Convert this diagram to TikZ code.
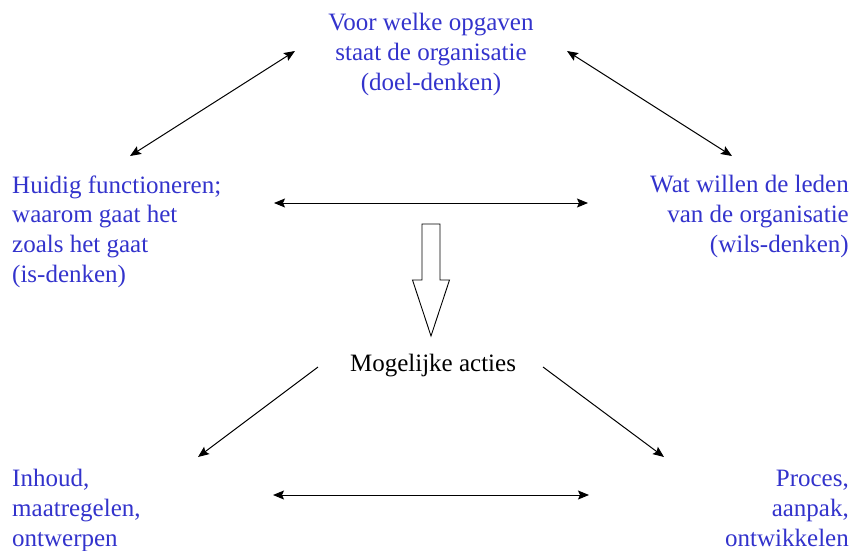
\documentclass[tikz,border=0pt]{standalone}
\usepackage{fontspec}
\setmainfont{Liberation Serif}
\usetikzlibrary{arrows.meta}
\definecolor{vraagblauw}{RGB}{51,51,204}

\begin{document}
\begin{tikzpicture}[x=1pt, y=-1pt,
    vraag/.style={text=vraagblauw, inner sep=0pt, font=\fontsize{25}{29.8}\selectfont},
    pijl/.style={-{Stealth[length=11pt,width=9pt,inset=2pt]}, line width=1pt},
    dubbel/.style={{Stealth[length=11pt,width=9pt,inset=2pt]}-{Stealth[length=11pt,width=9pt,inset=2pt]}, line width=1pt}]
  \useasboundingbox (0,0) rectangle (854,550);

  \node[vraag, align=center, anchor=base] (doel) at (431,90.5)
        {Voor welke opgaven\\staat de organisatie\\(doel-denken)};
  \node[vraag, align=left, anchor=base west] (is) at (12,282.5)
        {Huidig functioneren;\\waarom gaat het\\zoals het gaat\\(is-denken)};
  \node[vraag, align=right, anchor=base east] (wils) at (849,252.5)
        {Wat willen de leden\\van de organisatie\\(wils-denken)};
  \node[inner sep=0pt, anchor=base, font=\fontsize{25}{29.8}\selectfont] (acties) at (433,371.7)
        {Mogelijke acties};
  \node[vraag, align=left, anchor=base west] (inhoud) at (12,546)
        {Inhoud,\\maatregelen,\\ontwerpen};
  \node[vraag, align=right, anchor=base east] (proces) at (849,546)
        {Proces,\\aanpak,\\ontwikkelen};

  % Arrow ends
  \coordinate (doel-l) at (295,51);
  \coordinate (doel-r) at (567,51);
  \coordinate (is-o) at (130,156);
  \coordinate (wils-o) at (732,156);
  \coordinate (is-r) at (274,203);
  \coordinate (wils-l) at (588,203);
  \coordinate (acties-l) at (318,367);
  \coordinate (acties-r) at (543,367);
  \coordinate (inhoud-o) at (198,457);
  \coordinate (proces-o) at (664,457);
  \coordinate (inhoud-r) at (273,495);
  \coordinate (proces-l) at (589,495);

  % Draw the connectors
  \draw[dubbel] (is-o) -- (doel-l);
  \draw[dubbel] (wils-o) -- (doel-r);
  \draw[dubbel] (is-r) -- (wils-l);
  \draw[pijl] (acties-l) -- (inhoud-o);
  \draw[pijl] (acties-r) -- (proces-o);
  \draw[dubbel] (inhoud-r) -- (proces-l);

  % Big arrow down
  \draw[line width=0.9pt, line join=miter]
        (422,224) -- (440,224) -- (440,280) -- (449.5,280) -- (431,336)
        -- (412.5,280) -- (422,280) -- cycle;
\end{tikzpicture}
\end{document}
